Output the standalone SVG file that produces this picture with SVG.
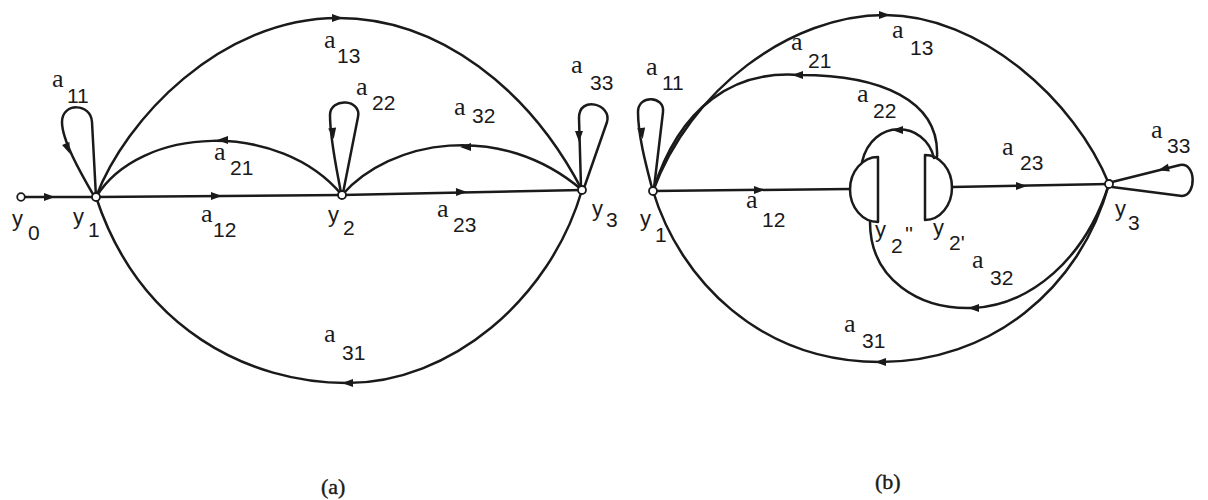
<svg xmlns="http://www.w3.org/2000/svg" width="1208" height="500" viewBox="0 0 1208 500">
<style>
.e{fill:none;stroke:#1a1a1a;stroke-width:2.5;stroke-linecap:round;stroke-linejoin:round}
.n{fill:#fff;stroke:#1a1a1a;stroke-width:1.8}
.a{font-family:"Liberation Serif",serif;font-size:26px;fill:#1a1a1a}
.s{font-family:"Liberation Sans",sans-serif;font-size:21px;fill:#1a1a1a}
.y{font-family:"Liberation Sans",sans-serif;font-size:22px;fill:#1a1a1a}
.c{font-family:"Liberation Serif",serif;font-size:22px;fill:#1a1a1a;stroke:#1a1a1a;stroke-width:0.4}
</style>
<defs>
<path id="ah" d="M-6,-4 L5,0 L-6,4 Z" fill="#1a1a1a"/>
</defs>
<rect width="1208" height="500" fill="#fff"/>
<g id="connectors">
<!-- (a) -->
<path class="e" d="M21,197 L96,197"/>
<path class="e" d="M96,197 L342,195 L582,190"/>
<path class="e" d="M96,197 C125,120 220,18 338,18 C440,18 530,90 582,190"/>
<path class="e" d="M96,197 C140,125 280,120 342,195"/>
<path class="e" d="M342,195 C390,140 500,120 582,190"/>
<path class="e" d="M96,197 C140,330 250,383 347,383 C450,383 550,300 582,190"/>
<path class="e" d="M96,197 L92,122 C91,103 62,102 62,122 C62,140 80,172 94,196"/>
<path class="e" d="M343,193 L358,117 C362,99 330,97 330,115 C330,140 337,170 341,193"/>
<path class="e" d="M584,188 L607,122 C612,104 579,95 579,118 L581,187"/>
<use href="#ah" transform="translate(50,197)"/>
<use href="#ah" transform="translate(217,196)"/>
<use href="#ah" transform="translate(462,192) rotate(-1)"/>
<use href="#ah" transform="translate(338,18)"/>
<use href="#ah" transform="translate(222,140) rotate(180)"/>
<use href="#ah" transform="translate(465,147) rotate(180)"/>
<use href="#ah" transform="translate(347,383) rotate(180)"/>
<use href="#ah" transform="translate(68,149) rotate(68)"/>
<use href="#ah" transform="translate(333,134) rotate(82)"/>
<use href="#ah" transform="translate(579,137) rotate(90)"/>
<!-- (b) -->
<path class="e" d="M653,191 L850,189"/>
<path class="e" d="M952,187 L1109,184"/>
<path class="e" d="M653,191 C690,90 790,15 885,15 C980,15 1075,100 1109,184"/>
<path class="e" d="M653,191 C680,105 735,70 800,75 C880,75 940,100 937,157"/>
<path class="e" d="M934,158 C925,120 872,118 862,162"/>
<path class="e" d="M1109,184 C1085,260 1030,305 973,308 C920,310 870,280 870,222"/>
<path class="e" d="M1109,184 C1080,290 990,362 880,362 C760,362 680,280 653,191"/>
<path class="e" d="M654,188 L663,112 C665,96 638,94 638,112 C638,135 646,165 652,188"/>
<path class="e" d="M1112,182 L1180,165 C1196,162 1197,195 1182,196 L1112,187"/>
<use href="#ah" transform="translate(760,190)"/>
<use href="#ah" transform="translate(1022,186)"/>
<use href="#ah" transform="translate(885,15)"/>
<use href="#ah" transform="translate(797,75) rotate(180)"/>
<use href="#ah" transform="translate(897,130) rotate(180)"/>
<use href="#ah" transform="translate(973,308) rotate(180)"/>
<use href="#ah" transform="translate(880,362) rotate(180)"/>
<use href="#ah" transform="translate(642,134) rotate(82)"/>
<use href="#ah" transform="translate(1163,169) rotate(166)"/>
</g>
<g id="y0"><circle class="n" cx="21" cy="197" r="3.8"/><text class="y" x="12" y="226">y</text><text class="s" x="28" y="240">0</text></g>
<g id="y1a"><circle class="n" cx="96" cy="197" r="4"/><text class="y" x="73" y="224">y</text><text class="s" x="88" y="237">1</text></g>
<g id="y2a"><circle class="n" cx="342" cy="195" r="4"/><text class="y" x="328" y="222">y</text><text class="s" x="343" y="235">2</text></g>
<g id="y3a"><circle class="n" cx="582" cy="190" r="4"/><text class="y" x="592" y="216">y</text><text class="s" x="606" y="227">3</text></g>
<g id="labels-a">
<text class="a" x="52" y="87">a</text><text class="s" x="67" y="103">11</text>
<text class="a" x="324" y="48">a</text><text class="s" x="337" y="63">13</text>
<text class="a" x="214" y="160">a</text><text class="s" x="230" y="175">21</text>
<text class="a" x="356" y="95">a</text><text class="s" x="372" y="110">22</text>
<text class="a" x="454" y="115">a</text><text class="s" x="472" y="123">32</text>
<text class="a" x="571" y="73">a</text><text class="s" x="590" y="90">33</text>
<text class="a" x="201" y="222">a</text><text class="s" x="213" y="237">12</text>
<text class="a" x="437" y="217">a</text><text class="s" x="453" y="232">23</text>
<text class="a" x="324" y="342">a</text><text class="s" x="342" y="360">31</text>
<text class="c" x="321" y="494">(a)</text>
</g>
<g id="y1b"><circle class="n" cx="653" cy="191" r="4"/><text class="y" x="640" y="226">y</text><text class="s" x="655" y="242">1</text></g>
<g id="y2pp"><path class="e" d="M878,157 L878,222 A28,32.5 0 0 1 878,157 Z"/><text class="y" x="875" y="237">y</text><text class="s" x="891" y="253">2</text><text class="s" x="905" y="241">''</text></g>
<g id="y2p"><path class="e" d="M925,155 L925,220 A27,32.5 0 0 0 925,155 Z"/><text class="y" x="933" y="235">y</text><text class="s" x="949" y="250">2'</text></g>
<g id="y3b"><circle class="n" cx="1109" cy="184" r="4"/><text class="y" x="1115" y="216">y</text><text class="s" x="1128" y="230">3</text></g>
<g id="labels-b">
<text class="a" x="646" y="75">a</text><text class="s" x="662" y="90">11</text>
<text class="a" x="791" y="50">a</text><text class="s" x="808" y="68">21</text>
<text class="a" x="892" y="38">a</text><text class="s" x="910" y="55">13</text>
<text class="a" x="857" y="102">a</text><text class="s" x="873" y="118">22</text>
<text class="a" x="746" y="208">a</text><text class="s" x="762" y="227">12</text>
<text class="a" x="1002" y="155">a</text><text class="s" x="1020" y="170">23</text>
<text class="a" x="972" y="268">a</text><text class="s" x="990" y="285">32</text>
<text class="a" x="1151" y="138">a</text><text class="s" x="1167" y="153">33</text>
<text class="a" x="844" y="332">a</text><text class="s" x="862" y="348">31</text>
<text class="c" x="875" y="489">(b)</text>
</g>
</svg>
